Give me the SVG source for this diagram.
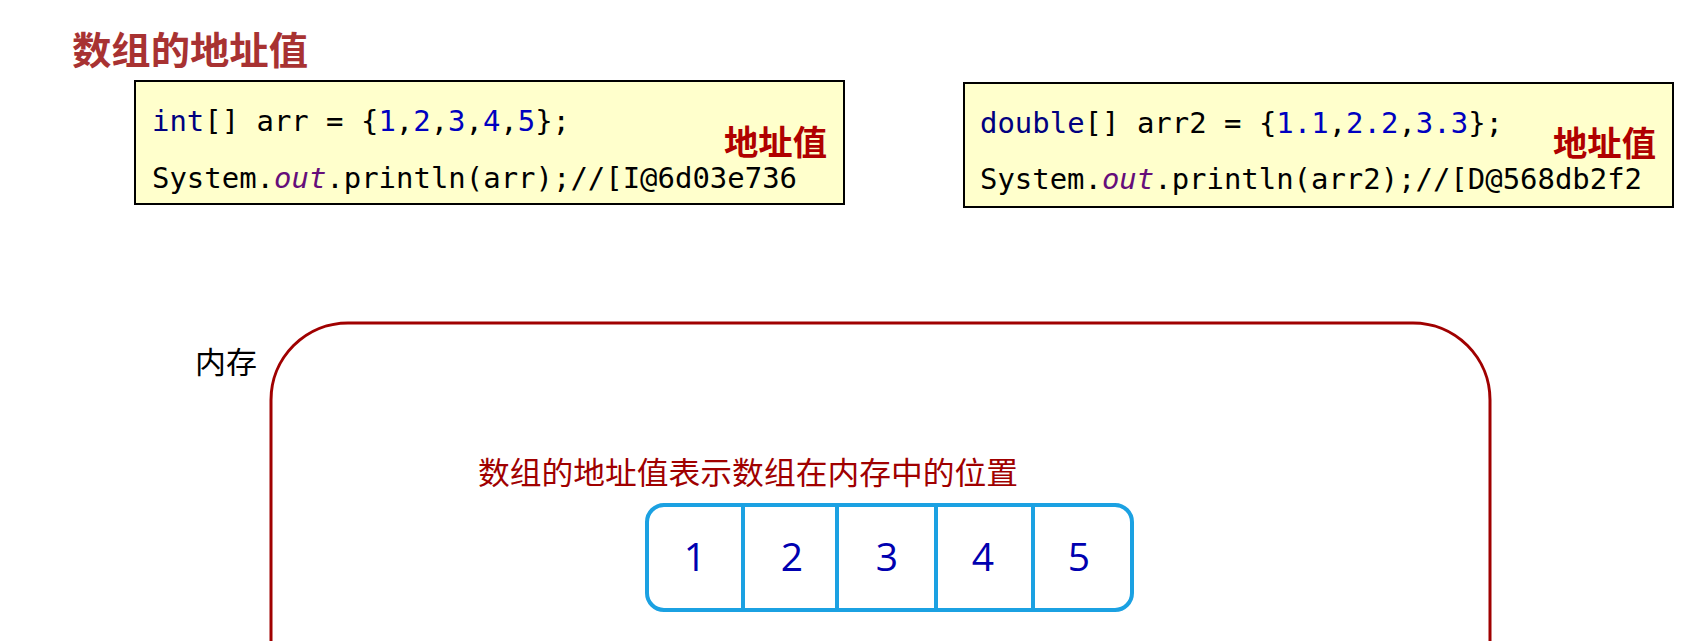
<svg xmlns="http://www.w3.org/2000/svg" width="1700" height="641" viewBox="0 0 1700 641">
<style>
.cjk{font-family:"Noto Sans CJK SC","Noto Sans",sans-serif;}
.code{font-family:"DejaVu Sans Mono","Liberation Mono",monospace;font-size:29px;fill:#000;}
.kw{fill:#000080;}
.num{fill:#0000C0;}
.fld{fill:#660E7A;font-style:italic;}
.box{fill:#FFFFCC;stroke:#000;stroke-width:2;}
.addr{font-weight:bold;font-size:34px;fill:#B00000;}
.cell{fill:#fff;stroke:#1BA1E2;stroke-width:4;}
.div{stroke:#1BA1E2;stroke-width:4;}
.digit{font-family:"Open Sans","Noto Sans",sans-serif;font-size:39px;fill:#0000B0;text-anchor:middle;}
</style>
<rect width="1700" height="641" fill="#fff"/>
<g id="title">
<text class="cjk" x="72" y="64" font-size="38" font-weight="bold" fill="#A83232" textLength="236" lengthAdjust="spacingAndGlyphs">数组的地址值</text>
</g>
<g id="code1">
<rect class="box" x="135" y="81" width="709" height="123"/>
<text class="code" x="152" y="131" textLength="418" lengthAdjust="spacingAndGlyphs"><tspan class="kw">int</tspan>[] arr = {<tspan class="num">1</tspan>,<tspan class="num">2</tspan>,<tspan class="num">3</tspan>,<tspan class="num">4</tspan>,<tspan class="num">5</tspan>};</text>
<text class="code" x="152" y="188" textLength="645" lengthAdjust="spacingAndGlyphs">System.<tspan class="fld">out</tspan>.println(arr);//[I@6d03e736</text>
<text class="cjk addr" x="724" y="155" textLength="103" lengthAdjust="spacingAndGlyphs">地址值</text>
</g>
<g id="code2">
<rect class="box" x="964" y="83" width="709" height="124"/>
<text class="code" x="980" y="133" textLength="523" lengthAdjust="spacingAndGlyphs"><tspan class="kw">double</tspan>[] arr2 = {<tspan class="num">1.1</tspan>,<tspan class="num">2.2</tspan>,<tspan class="num">3.3</tspan>};</text>
<text class="code" x="980" y="189" textLength="662" lengthAdjust="spacingAndGlyphs">System.<tspan class="fld">out</tspan>.println(arr2);//[D@568db2f2</text>
<text class="cjk addr" x="1553" y="156" textLength="103" lengthAdjust="spacingAndGlyphs">地址值</text>
</g>
<g id="memory">
<rect x="271" y="323" width="1219" height="500" rx="77" ry="77" fill="none" stroke="#A00000" stroke-width="3"/>
<text class="cjk" x="195" y="373" font-size="30" fill="#000" textLength="62" lengthAdjust="spacingAndGlyphs">内存</text>
</g>
<g id="note">
<text class="cjk" x="478" y="484" font-size="31" fill="#A00000" textLength="540" lengthAdjust="spacingAndGlyphs">数组的地址值表示数组在内存中的位置</text>
</g>
<g id="array">
<rect class="cell" x="647" y="505" width="485" height="105" rx="17" ry="17"/>
<line class="div" x1="743" y1="505" x2="743" y2="610"/>
<line class="div" x1="837" y1="505" x2="837" y2="610"/>
<line class="div" x1="936" y1="505" x2="936" y2="610"/>
<line class="div" x1="1033" y1="505" x2="1033" y2="610"/>
<text class="digit" x="695" y="571">1</text>
<text class="digit" x="792" y="571">2</text>
<text class="digit" x="887" y="571">3</text>
<text class="digit" x="983" y="571">4</text>
<text class="digit" x="1079" y="571">5</text>
</g>
<g id="connectors"></g>
</svg>
